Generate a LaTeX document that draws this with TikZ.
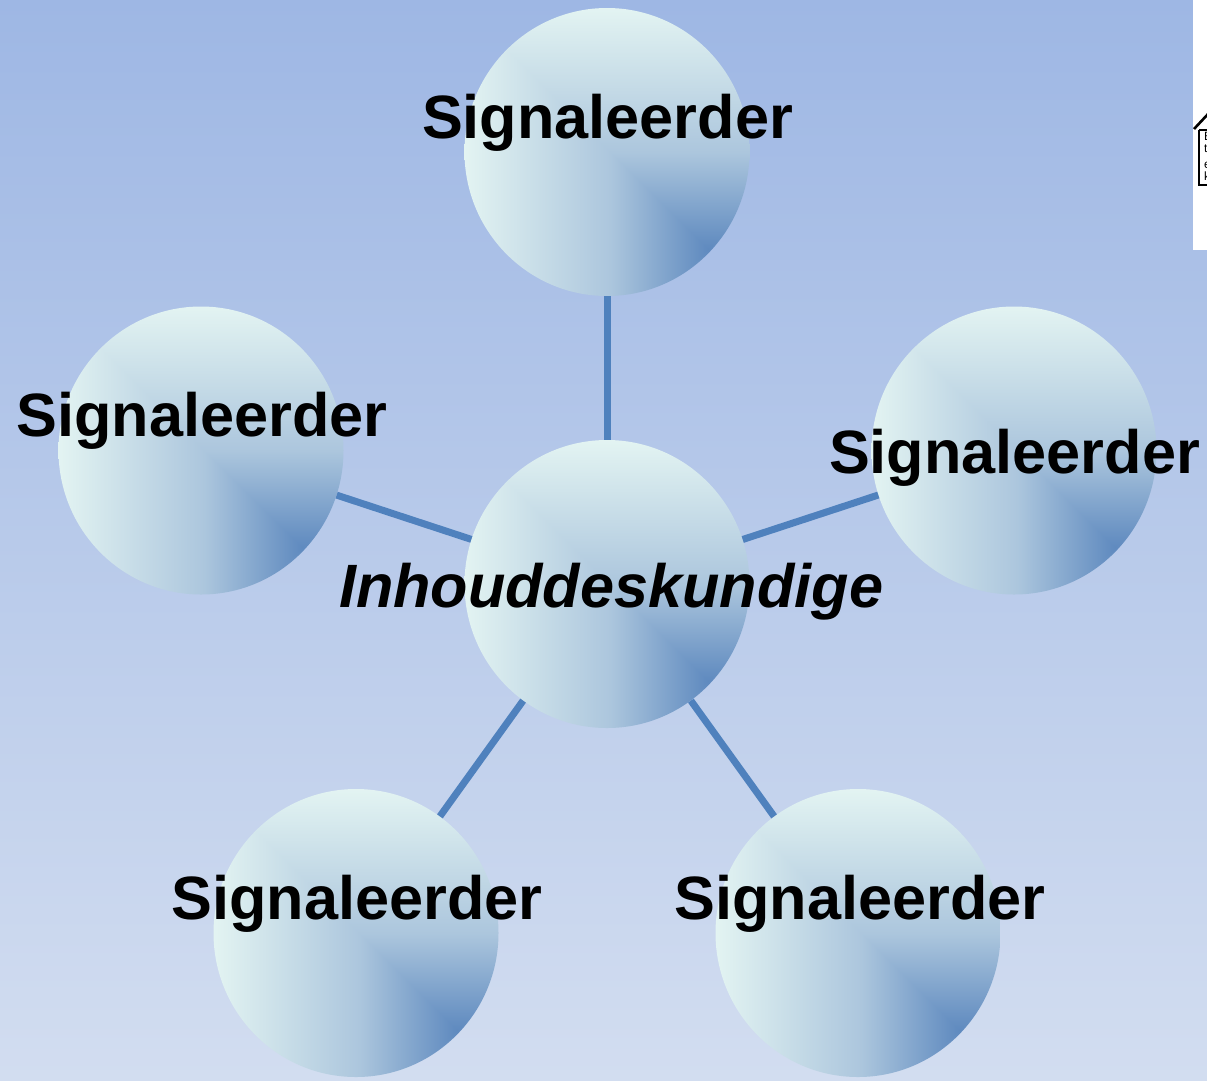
\documentclass[tikz,border=0pt]{standalone}
\usepackage{fontspec}
\usetikzlibrary{shapes.geometric}
\setmainfont{Liberation Sans}
\definecolor{bgtop}{RGB}{158,183,228}
\definecolor{bgbottom}{RGB}{210,221,240}
\definecolor{spokeblue}{RGB}{79,129,189}
\pgfdeclarefunctionalshading{ballfill}{\pgfpointorigin}{\pgfpoint{100bp}{100bp}}{}{
  exch 67.7 sub exch 33.2 sub
  exch dup 0 lt {-42.7 div} {42.7 div} ifelse
  exch dup 0 gt {41.8 div} {-41.8 div} ifelse
  2 copy gt {pop} {exch pop} ifelse
  dup 0.4 lt {
    0.4 div
    dup 0.30 mul 0.373 add exch
    dup 0.235 mul 0.541 add exch
    0.118 mul 0.749 add
  } {
    0.4 sub 0.6 div
    dup 0.216 mul 0.674 add exch
    dup 0.180 mul 0.776 add exch
    0.082 mul 0.867 add
  } ifelse
}
\tikzset{
  ball/.style={ellipse,minimum width=285pt,minimum height=288pt,inner sep=0pt,shade,shading=ballfill},
  spoke/.style={line width=7pt,spokeblue},
  caption/.style={anchor=base,inner sep=0pt,font=\fontsize{61.2}{61.2}\selectfont\bfseries},
  icontext/.style={anchor=base west,inner sep=0pt,font=\fontsize{12}{12}\selectfont}
}

\begin{document}
\begin{tikzpicture}[x=1pt,y=-1pt]
  \useasboundingbox (0,0) rectangle (1207,1080);
  \shade[top color=bgtop,bottom color=bgbottom] (0,0) rectangle (1207,1080);

  % house icon on the white strip
  \fill[white] (1193,0) rectangle (1207,250);
  \begin{scope}
    \clip (1193,0) rectangle (1207,250);
    \draw[line width=2.6pt] (1194,129) -- (1208,114);
    \draw[line width=2.6pt] (1199,130) -- (1208,130);
    \draw[line width=2.6pt] (1199,130) -- (1199,185) -- (1208,185);
    \node[icontext] (iconA) at (1204,140) {E};
    \node[icontext] (iconB) at (1204,152) {t};
    \node[icontext] (iconC) at (1204,168) {e};
    \node[icontext] (iconD) at (1204,180) {k};
  \end{scope}

  \node[ball] (hub) at (607,584) {};
  \node[ball] (top) at (607,152) {};
  \node[ball] (left) at (201,450.5) {};
  \node[ball] (right) at (1014,450.5) {};
  \node[ball] (lowleft) at (356,933) {};
  \node[ball] (lowright) at (858,933) {};

  \draw[spoke] (hub) -- (top);
  \draw[spoke] (hub) -- (left);
  \draw[spoke] (hub) -- (right);
  \draw[spoke] (hub) -- (lowleft);
  \draw[spoke] (hub) -- (lowright);

  \node[caption] (toptext) at (607.5,138) {Signaleerder};
  \node[caption] (lefttext) at (202,436) {Signaleerder};
  \node[caption] (righttext) at (1014.5,473) {Signaleerder};
  \node[caption] (lowlefttext) at (357,919) {Signaleerder};
  \node[caption] (lowrighttext) at (860,919) {Signaleerder};
  \node[caption,font=\fontsize{61.2}{61.2}\selectfont\bfseries\itshape] (hubtext) at (611,607) {Inhouddeskundige};
\end{tikzpicture}
\end{document}
